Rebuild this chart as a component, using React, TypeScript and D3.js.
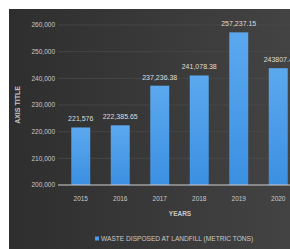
import React, { useEffect, useRef } from "react";
import * as d3 from "d3";

// data
const years = ["2015", "2016", "2017", "2018", "2019", "2020"];
const waste = [221576, 222385.65, 237236.38, 241078.38, 257237.15, 243807.4];
const valueLabels = ["221,576", "222,385.65", "237,236.38", "241,078.38", "257,237.15", "243807.4"];
const yTicks = [200000, 210000, 220000, 230000, 240000, 250000, 260000];
const seriesName = "WASTE DISPOSED AT LANDFILL (METRIC TONS)";

const App = () => {
  const svgRef = useRef<SVGSVGElement>(null);

  useEffect(() => {
    const width = 290;
    const height = 249;
    const svg = d3.select(svgRef.current);
    svg.selectAll("*").remove();
    svg.attr("width", width).attr("height", height);

    const defs = svg.append("defs");
    const bg = defs.append("linearGradient").attr("id", "bg").attr("x1", "0").attr("y1", "0").attr("x2", "1").attr("y2", "0");
    bg.append("stop").attr("offset", "0").attr("stop-color", "#2e2e2e");
    bg.append("stop").attr("offset", "1").attr("stop-color", "#434343");
    const barGrad = defs.append("linearGradient").attr("id", "bar").attr("x1", "0").attr("y1", "0").attr("x2", "0").attr("y2", "1");
    barGrad.append("stop").attr("offset", "0").attr("stop-color", "#5ba8ee");
    barGrad.append("stop").attr("offset", "1").attr("stop-color", "#3c90e2");

    svg.append("rect").attr("width", width).attr("height", height).attr("fill", "#fff");
    svg.append("rect").attr("x", 9).attr("y", 9).attr("width", width - 9).attr("height", height - 9).attr("fill", "url(#bg)");

    const x = d3.scaleBand().domain(years).range([61, 298]).paddingInner(0.52).paddingOuter(0.26);
    const y = d3.scaleLinear().domain([200000, 260000]).range([185, 25]);

    const font = "'Liberation Sans Narrow', 'Liberation Sans', Arial, sans-serif";

    // grid
    svg.append("g").selectAll("line").data(yTicks.slice(1)).join("line")
      .attr("x1", 58).attr("x2", width)
      .attr("y1", d => y(d)).attr("y2", d => y(d))
      .attr("stroke", "#4a4a4a").attr("stroke-width", 0.8);

    // y labels
    svg.append("g").selectAll("text").data(yTicks).join("text")
      .attr("x", 55).attr("y", d => y(d)).attr("dy", "0.35em")
      .attr("text-anchor", "end")
      .attr("font-family", font).attr("font-size", 6.5).attr("fill", "#c9c9c9")
      .text(d => d3.format(",")(d));

    // bars
    svg.append("g").selectAll("rect").data(waste).join("rect")
      .attr("x", (d, i) => x(years[i])!)
      .attr("width", x.bandwidth())
      .attr("y", d => y(d))
      .attr("height", d => y(200000) - y(d))
      .attr("fill", "url(#bar)");

    // baseline
    svg.append("line").attr("x1", 58).attr("x2", width)
      .attr("y1", y(200000)).attr("y2", y(200000))
      .attr("stroke", "#cfcfcf").attr("stroke-width", 1.2);

    // value labels
    svg.append("g").selectAll("text").data(waste).join("text")
      .attr("x", (d, i) => x(years[i])! + x.bandwidth() / 2)
      .attr("y", d => y(d) - 6)
      .attr("text-anchor", "middle")
      .attr("font-family", font).attr("font-size", 7).attr("fill", "#dedede")
      .text((d, i) => valueLabels[i]);

    // x labels
    svg.append("g").selectAll("text").data(years).join("text")
      .attr("x", d => x(d)! + x.bandwidth() / 2)
      .attr("y", 201)
      .attr("text-anchor", "middle")
      .attr("font-family", font).attr("font-size", 6.5).attr("fill", "#c9c9c9")
      .text(d => d);

    svg.append("text").attr("x", 180).attr("y", 216)
      .attr("text-anchor", "middle").attr("font-family", font)
      .attr("font-size", 6.5).attr("font-weight", "bold").attr("fill", "#c9c9c9")
      .text("YEARS");

    svg.append("text")
      .attr("transform", "translate(20,105) rotate(-90)")
      .attr("text-anchor", "middle").attr("font-family", font)
      .attr("font-size", 7).attr("font-weight", "bold").attr("fill", "#c9c9c9")
      .text("AXIS TITLE");

    // legend
    const legend = svg.append("g").attr("transform", "translate(95,241)");
    legend.append("rect").attr("x", 0).attr("y", -4.5).attr("width", 4).attr("height", 4).attr("fill", "#4a9be8");
    legend.append("text").attr("x", 6).attr("y", 0)
      .attr("font-family", font).attr("font-size", 6.6).attr("fill", "#c9c9c9")
      .text(seriesName);
  }, []);

  return (
    <svg ref={svgRef} style={{ position: "absolute", left: 0, top: 0, display: "block" }} />
  );
};

export default App;
